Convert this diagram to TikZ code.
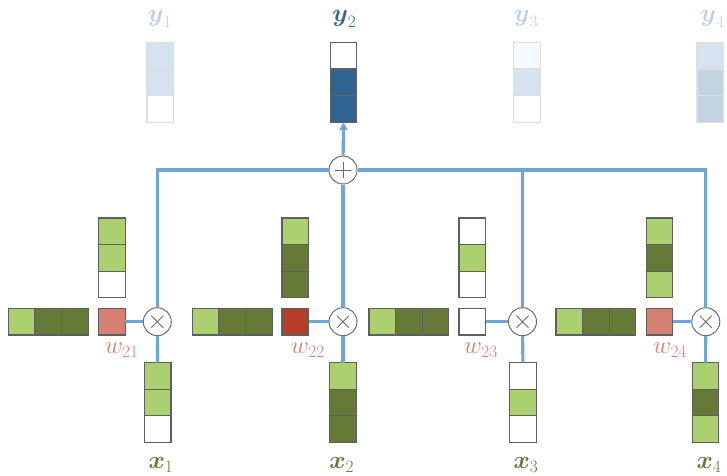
\documentclass[tikz,border=0pt]{standalone}
\usepackage{amsmath}
\usetikzlibrary{arrows.meta}
\definecolor{lg}{RGB}{170,208,112}
\definecolor{dg}{RGB}{100,122,54}
\definecolor{cellborder}{RGB}{95,95,95}
\definecolor{faintborder}{RGB}{222,222,222}
\definecolor{salmon}{RGB}{214,128,113}
\definecolor{darkred}{RGB}{181,62,40}
\definecolor{busblue}{RGB}{111,166,216}
\definecolor{ydark}{RGB}{47,100,145}
\definecolor{ylight}{RGB}{213,227,240}
\definecolor{yvlight}{RGB}{244,250,254}
\definecolor{ygray}{RGB}{194,211,226}
\definecolor{ylab}{RGB}{190,208,228}
\definecolor{circgray}{RGB}{110,110,110}
\tikzset{
  cell/.style={draw=cellborder, line width=1.1pt, minimum width=26.6pt, minimum height=26.6pt, inner sep=0pt, outer sep=0pt},
  fcell/.style={cell, draw=faintborder},
  bus/.style={draw=busblue, line width=3.1pt},
  mult/.style={circle, draw=circgray, fill=white, line width=1pt, minimum size=28pt, inner sep=0pt,
    path picture={\draw[circgray,line width=0.9pt]
      ([shift={(-6pt,-6pt)}]path picture bounding box.center) -- ([shift={(6pt,6pt)}]path picture bounding box.center)
      ([shift={(-6pt,6pt)}]path picture bounding box.center) -- ([shift={(6pt,-6pt)}]path picture bounding box.center);}},
  addc/.style={circle, draw=circgray, fill=white, line width=1pt, minimum size=28pt, inner sep=0pt,
    path picture={\draw[circgray,line width=0.9pt]
      ([shift={(-8pt,0pt)}]path picture bounding box.center) -- ([shift={(8pt,0pt)}]path picture bounding box.center)
      ([shift={(0pt,-8pt)}]path picture bounding box.center) -- ([shift={(0pt,8pt)}]path picture bounding box.center);}},
  wlab/.style={text=salmon, font=\fontsize{24}{28}\selectfont, inner sep=0pt},
  xlab/.style={text=dg, font=\fontsize{25}{30}\selectfont, inner sep=0pt},
  ylabel/.style={font=\fontsize{25}{30}\selectfont, inner sep=0pt},
}
% vertical stack: name, style, x, y of top cell centre, fills
\newcommand\vstk[7]{%
  \node[#2, fill=#5] (#1a) at (#3,#4) {};
  \node[#2, fill=#6, anchor=north] (#1b) at (#1a.south) {};
  \node[#2, fill=#7, anchor=north] (#1c) at (#1b.south) {};}
% horizontal stack: name, x of left cell centre, y, fills
\newcommand\hstk[6]{%
  \node[cell, fill=#4] (#1a) at (#2,#3) {};
  \node[cell, fill=#5, anchor=west] (#1b) at (#1a.east) {};
  \node[cell, fill=#6, anchor=west] (#1c) at (#1b.east) {};}
\begin{document}
\begin{tikzpicture}[x=1pt,y=-1pt]
\useasboundingbox (0,0) rectangle (727,475);
% outputs y
\vstk{ya}{fcell}{160.3}{55.7}{ylight}{ylight}{white}
\vstk{yb}{cell}{343.5}{55.7}{white}{ydark}{ydark}
\vstk{yc}{fcell}{527.2}{55.7}{yvlight}{ylight}{white}
\vstk{yd}{fcell}{710.3}{55.7}{ylight}{ygray}{ygray}
\node[ylabel, text=ylab] (ly1) at (160,19) {$\boldsymbol{y}_1$};
\node[ylabel, text=ydark] (ly2) at (344.3,19) {$\boldsymbol{y}_2$};
\node[ylabel, text=ylab] (ly3) at (526,19) {$\boldsymbol{y}_3$};
\node[ylabel, text=ylab] (ly4) at (712.5,19) {$\boldsymbol{y}_4$};
% sum
\node[addc] (plus) at (343,170) {};
% block 1
\hstk{ra}{21.6}{321.7}{lg}{dg}{dg}
\vstk{ka}{cell}{112}{231.3}{lg}{lg}{white}
\node[cell, fill=salmon] (wa) at (112,321.7) {};
\node[mult] (ma) at (157.3,321.7) {};
\vstk{xa}{cell}{157.7}{376}{lg}{lg}{white}
\node[wlab] (lwa) at (121.7,350) {$w_{21}$};
\node[xlab] (lxa) at (161,465) {$\boldsymbol{x}_1$};
% block 2
\hstk{rb}{205.6}{321.7}{lg}{dg}{dg}
\vstk{kb}{cell}{295.3}{231.3}{lg}{dg}{dg}
\node[cell, fill=darkred] (wb) at (295.3,321.7) {};
\node[mult] (mb) at (343,321.7) {};
\vstk{xb}{cell}{343}{376}{lg}{dg}{dg}
\node[wlab] (lwb) at (307.8,350) {$w_{22}$};
\node[xlab] (lxb) at (341.7,465) {$\boldsymbol{x}_2$};
% block 3
\hstk{rc}{382.3}{321.7}{lg}{dg}{dg}
\vstk{kc}{cell}{472.3}{231.3}{white}{lg}{white}
\node[cell, fill=white] (wc) at (472.3,321.7) {};
\node[mult] (mc) at (522.5,321.7) {};
\vstk{xc}{cell}{523}{376}{white}{lg}{white}
\node[wlab] (lwc) at (480.8,350) {$w_{23}$};
\node[xlab] (lxc) at (526,465) {$\boldsymbol{x}_3$};
% block 4
\hstk{rd}{569.3}{321.7}{lg}{dg}{dg}
\vstk{kd}{cell}{659.5}{231.3}{lg}{dg}{lg}
\node[cell, fill=salmon] (wd) at (659.5,321.7) {};
\node[mult] (md) at (705.8,321.7) {};
\vstk{xd}{cell}{705.5}{376}{lg}{dg}{lg}
\node[wlab] (lwd) at (670,350) {$w_{24}$};
\node[xlab] (lxd) at (709,465) {$\boldsymbol{x}_4$};
% connectors
\draw[bus] (wa) -- (ma);
\draw[bus] (wb) -- (mb);
\draw[bus] (wc) -- (mc);
\draw[bus] (wd) -- (md);
\draw[bus] (ma) -- (xaa);
\draw[bus] (mb) -- (xba);
\draw[bus] (mc) -- (xca);
\draw[bus] (md) -- (xda);
\draw[bus] (ma.north) |- (plus.west);
\draw[bus] (mb) -- (plus);
\draw[bus] (plus.east) -| (md.north);
\draw[bus] (mc.north) -- (mc.north |- plus);
\draw[bus, -{Triangle[length=8pt,width=8pt]}] (plus) -- (ybc.south);
\end{tikzpicture}
\end{document}
